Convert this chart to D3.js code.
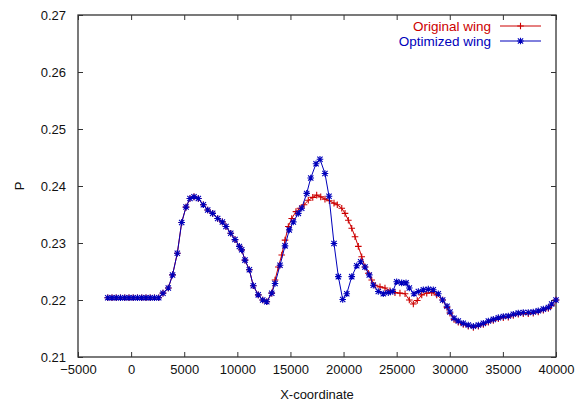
<!DOCTYPE html>
<html>
<head>
<meta charset="utf-8">
<script src="https://cdn.jsdelivr.net/npm/d3@7"></script>
<style>
  html, body { margin: 0; padding: 0; background: #fff; }
  svg { display: block; }
  text { font-family: "Liberation Sans", Arial, Helvetica, sans-serif; }
</style>
</head>
<body>
<svg id="chart" width="577" height="404"></svg>
<script>
// ---------- data ----------
const xTicks = [-5000, 0, 5000, 10000, 15000, 20000, 25000, 30000, 35000, 40000];
const yTicks = [0.21, 0.22, 0.23, 0.24, 0.25, 0.26, 0.27];
const seriesNames = ["Original wing", "Optimized wing"];

// shared leading part (identical for both wings)
const commonX = [-2200, -1800, -1400, -1000, -600, -200, 200, 600, 1000, 1400, 1800, 2200, 2600,
  3000, 3500, 3900, 4350, 4760, 5170, 5540, 5920, 6330, 6800, 7210, 7680, 8150, 8590, 8930,
  9380, 9780, 10190, 10410, 10720, 11130, 11500, 11970, 12390, 12770, 13240];
const commonP = [0.2204, 0.2204, 0.2204, 0.2204, 0.2204, 0.2204, 0.2204, 0.2204, 0.2204, 0.2204, 0.2204, 0.2204, 0.2204,
  0.2212, 0.2221, 0.2244, 0.2282, 0.2336, 0.2363, 0.2378, 0.2381, 0.2378, 0.2367, 0.2358, 0.2352, 0.2343, 0.2337, 0.2329,
  0.2317, 0.2306, 0.2294, 0.2288, 0.2270, 0.2253, 0.2225, 0.2209, 0.2200, 0.2197, 0.2212];

const optX = [13550, 14020, 14490, 14890, 15270, 15740, 16060, 16530, 16910, 17410, 17780, 18250, 18630,
  19100, 19510, 19920, 20300, 20770, 21240, 21610, 22020, 22420, 22800, 23270, 23740, 24210, 24630,
  25000, 25470, 25880, 26190, 26630, 27040, 27510, 27980, 28450, 28920, 29330, 29740,
  30020, 30400, 30800, 31270, 31740, 32220, 32690, 33160, 33630, 34100, 34570, 35040, 35510,
  35980, 36450, 36920, 37390, 37860, 38330, 38810, 39280, 39590, 40000];
const optP = [0.2229, 0.2261, 0.2295, 0.2323, 0.2337, 0.2352, 0.2361, 0.2387, 0.2414, 0.2439, 0.2447, 0.2422, 0.2382,
  0.2299, 0.2241, 0.2201, 0.2211, 0.2241, 0.2260, 0.2267, 0.2258, 0.2244, 0.2226, 0.2215, 0.2211, 0.2213, 0.2215,
  0.2232, 0.2230, 0.2230, 0.2221, 0.2211, 0.2215, 0.2218, 0.2219, 0.2218, 0.2211, 0.2200, 0.2189,
  0.2179, 0.2168, 0.2163, 0.2159, 0.2156, 0.2154, 0.2156, 0.2159, 0.2163, 0.2166, 0.2169, 0.2171, 0.2172,
  0.2175, 0.2177, 0.2178, 0.2178, 0.2179, 0.2181, 0.2184, 0.2187, 0.2193, 0.2200];

const origX = [13550, 13860, 14180, 14490, 14800, 15120, 15520, 15900, 16280, 16680, 17100, 17470, 17850,
  18250, 18660, 19100, 19410, 19830, 20140, 20450, 20770, 21080, 21390, 21710, 22020, 22330, 22650,
  22960, 23430, 23900, 24370, 24840, 25310, 25790, 26190, 26570, 26940, 27360, 27830, 28300, 28770,
  29330, 29740, 30020, 30400, 30800, 31270, 31740, 32220, 32690, 33160, 33630, 34100, 34570, 35040,
  35510, 35980, 36450, 36920, 37390, 37860, 38330, 38810, 39280, 39590, 40000];
const origP = [0.2235, 0.2258, 0.2279, 0.2305, 0.2329, 0.2343, 0.2355, 0.2361, 0.2367, 0.2375, 0.2380, 0.2384, 0.2381,
  0.2377, 0.2374, 0.2370, 0.2367, 0.2361, 0.2352, 0.2340, 0.2326, 0.2311, 0.2294, 0.2276, 0.2258, 0.2247, 0.2235,
  0.2226, 0.2223, 0.2221, 0.2216, 0.2213, 0.2212, 0.2211, 0.2200, 0.2193, 0.2199, 0.2209, 0.2212, 0.2213, 0.2209,
  0.2200, 0.2187, 0.2177, 0.2166, 0.2161, 0.2157, 0.2154, 0.2152, 0.2154, 0.2157, 0.2161, 0.2164, 0.2167, 0.2169,
  0.2170, 0.2173, 0.2175, 0.2176, 0.2176, 0.2177, 0.2179, 0.2182, 0.2185, 0.2191, 0.2200];

// ---------- layout ----------
const W = 577, H = 404;
const m = { left: 78, right: 21, top: 15, bottom: 47 };
const red = "#cc0000", blue = "#0000bb";

const svg = d3.select("#chart");
const x = d3.scaleLinear().domain([-5000, 40000]).range([m.left, W - m.right]);
const y = d3.scaleLinear().domain([0.21, 0.27]).range([H - m.bottom, m.top]);

const toPts = (xs, ps) => xs.map((v, i) => [v, ps[i]]);
const origData = toPts(commonX.concat(origX), commonP.concat(origP));
const optData = toPts(commonX.concat(optX), commonP.concat(optP));

// axes with inward ticks (mirrored)
const fontSize = 13;
const axB = svg.append("g").attr("transform", `translate(0,${H - m.bottom})`)
  .call(d3.axisBottom(x).tickValues(xTicks).tickFormat(d3.format("d")).tickSizeInner(-5).tickSizeOuter(0).tickPadding(8));
const axT = svg.append("g").attr("transform", `translate(0,${m.top})`)
  .call(d3.axisTop(x).tickValues(xTicks).tickFormat("").tickSizeInner(-5).tickSizeOuter(0));
const axL = svg.append("g").attr("transform", `translate(${m.left},0)`)
  .call(d3.axisLeft(y).tickValues(yTicks).tickFormat(d3.format(".2f")).tickSizeInner(-5).tickSizeOuter(0).tickPadding(12));
const axR = svg.append("g").attr("transform", `translate(${W - m.right},0)`)
  .call(d3.axisRight(y).tickValues(yTicks).tickFormat("").tickSizeInner(-5).tickSizeOuter(0));
[axB, axT, axL, axR].forEach(g => {
  g.select(".domain").remove();
  g.selectAll("line").attr("stroke", "#333").attr("stroke-width", 1);
  g.selectAll("text").attr("fill", "#111").style("font-size", fontSize + "px")
    .style("font-family", '"Liberation Sans", Arial, sans-serif');
});

// frame
svg.append("rect").attr("x", x(-5000)).attr("y", y(0.27))
  .attr("width", x(40000) - x(-5000)).attr("height", y(0.21) - y(0.27))
  .attr("fill", "none").attr("stroke", "#333").attr("stroke-width", 1.3);

// axis titles
svg.append("text").attr("x", (x(-5000) + x(40000)) / 2).attr("y", 399)
  .attr("text-anchor", "middle").style("font-size", fontSize + "px").attr("fill", "#111").text("X-coordinate");
svg.append("text").attr("transform", `translate(24,${y(0.24)}) rotate(-90)`)
  .attr("text-anchor", "middle").style("font-size", fontSize + "px").attr("fill", "#111").text("P");

// series
const line = d3.line().x(d => x(d[0])).y(d => y(d[1]));
const s = 3.3;
function plus(g, px, py, color) {
  g.append("path").attr("d", `M${px - s},${py}H${px + s}M${px},${py - s}V${py + s}`)
    .attr("stroke", color).attr("stroke-width", 1.1).attr("fill", "none");
}
function star(g, px, py, color) {
  const d = s * 0.8;
  g.append("path").attr("d", `M${px - s},${py}H${px + s}M${px},${py - s}V${py + s}M${px - d},${py - d}L${px + d},${py + d}M${px - d},${py + d}L${px + d},${py - d}`)
    .attr("stroke", color).attr("stroke-width", 1.1).attr("fill", "none");
}

const gO = svg.append("g");
gO.append("path").datum(origData).attr("d", line).attr("fill", "none").attr("stroke", red).attr("stroke-width", 1);
origData.forEach(d => plus(gO, x(d[0]), y(d[1]), red));

const gB = svg.append("g");
gB.append("path").datum(optData).attr("d", line).attr("fill", "none").attr("stroke", blue).attr("stroke-width", 1);
optData.forEach(d => star(gB, x(d[0]), y(d[1]), blue));

// legend
const legend = svg.append("g");
const legColors = [red, blue];
seriesNames.forEach((name, i) => {
  const ly = 26 + i * 15;
  legend.append("text").attr("x", 491).attr("y", ly + 4.5).attr("text-anchor", "end")
    .style("font-size", "13.5px").attr("fill", legColors[i]).text(name);
  legend.append("line").attr("x1", 500).attr("x2", 541).attr("y1", ly).attr("y2", ly)
    .attr("stroke", legColors[i]).attr("stroke-width", 1);
  if (i === 0) plus(legend, 520.5, ly, legColors[i]); else star(legend, 520.5, ly, legColors[i]);
});
</script>
</body>
</html>
